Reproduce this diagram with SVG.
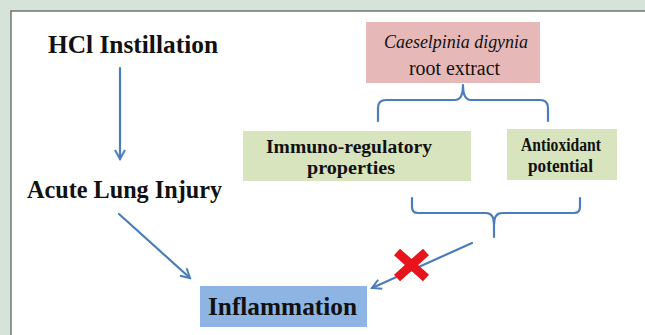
<svg xmlns="http://www.w3.org/2000/svg" width="645" height="335" viewBox="0 0 645 335">
<defs>
<style>
.t{font-family:"Liberation Serif","Times New Roman",serif;font-weight:bold;fill:#111}
.big{font-size:26px}
.sm{font-size:18px}
.it{font-style:italic;font-weight:normal;font-size:19px}
.rg{font-weight:normal;font-size:20px}
.c{stroke:#4a7ebb;stroke-width:2.2;fill:none;stroke-linecap:round;stroke-linejoin:round}
</style>
<marker id="ah" viewBox="0 0 12 12" refX="10" refY="6" markerWidth="12" markerHeight="12" markerUnits="userSpaceOnUse" orient="auto">
<path d="M1,1 L10,6 L1,11" fill="none" stroke="#4a7ebb" stroke-width="2"/>
</marker>
</defs>
<rect x="0" y="0" width="645" height="335" fill="#d5e3d9"/>
<rect x="11" y="11" width="650" height="340" fill="#fff" stroke="#555" stroke-width="1.2"/>
<g id="hcl"><text class="t big" x="48" y="53" textLength="170" lengthAdjust="spacingAndGlyphs">HCl Instillation</text></g>
<g id="ali"><text class="t big" x="27" y="198" textLength="195" lengthAdjust="spacingAndGlyphs">Acute Lung Injury</text></g>
<g id="extract">
<rect x="366" y="22" width="174" height="61" fill="#e6b9b8"/>
<text class="t it" x="384" y="48" textLength="144" lengthAdjust="spacingAndGlyphs">Caeselpinia digynia</text>
<text class="t rg" x="409" y="75" textLength="91" lengthAdjust="spacingAndGlyphs">root extract</text>
</g>
<g id="immuno">
<rect x="243" y="131" width="228" height="50" fill="#d7e4bd"/>
<text class="t sm" x="266" y="153" textLength="166" lengthAdjust="spacingAndGlyphs">Immuno-regulatory</text>
<text class="t sm" x="307" y="174" textLength="88" lengthAdjust="spacingAndGlyphs">properties</text>
</g>
<g id="antiox">
<rect x="507" y="129" width="110" height="51" fill="#d7e4bd"/>
<text class="t sm" x="521" y="151" textLength="80" lengthAdjust="spacingAndGlyphs">Antioxidant</text>
<text class="t sm" x="528" y="172" textLength="65" lengthAdjust="spacingAndGlyphs">potential</text>
</g>
<g id="inflammation">
<rect x="200" y="286" width="167" height="41" fill="#8eb4e3"/>
<text class="t big" x="208" y="315" textLength="149" lengthAdjust="spacingAndGlyphs">Inflammation</text>
</g>
<g id="connectors">
<line class="c" x1="120" y1="68" x2="120" y2="159" marker-end="url(#ah)"/>
<line class="c" x1="119" y1="214" x2="190" y2="278" marker-end="url(#ah)"/>
<path class="c" d="M463,85 Q463,100 455,100 L386,100 Q378,100 378,108 L378,121 M463,85 Q463,100 471,100 L540,100 Q548,100 548,108 L548,121"/>
<path class="c" d="M412,198 L412,207 Q412,213 418,213 L486,213 Q494,213 494,225 L494,237 M494,225 Q494,213 502,213 L574,213 Q580,213 580,207 L580,198"/>
<line class="c" x1="472" y1="243" x2="372" y2="288" marker-end="url(#ah)"/>
</g>
<g id="block">
<path d="M397,252 L426,278 M426,252 L397,278" stroke="#e8141c" stroke-width="9" stroke-linecap="butt"/>
</g>
</svg>
